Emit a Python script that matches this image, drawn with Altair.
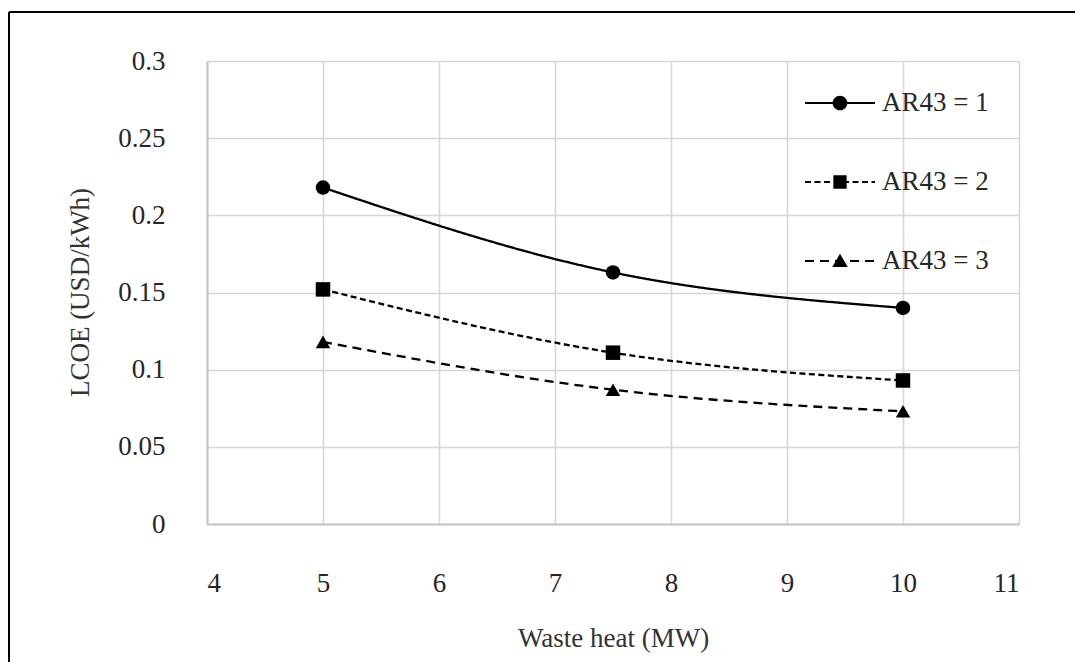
import altair as alt
import pandas as pd

# Waste heat input (MW) and levelised cost of electricity (USD/kWh)
heat = [5, 7.5, 10]
series_names = ["AR43 = 1", "AR43 = 2", "AR43 = 3"]
lcoe_ar1 = [0.218, 0.163, 0.140]
lcoe_ar2 = [0.152, 0.111, 0.093]
lcoe_ar3 = [0.118, 0.087, 0.073]
x_ticks = [4, 5, 6, 7, 8, 9, 10, 11]
y_ticks = [0, 0.05, 0.1, 0.15, 0.2, 0.25, 0.3]

rows = []
for name, vals in zip(series_names, [lcoe_ar1, lcoe_ar2, lcoe_ar3]):
    for h, v in zip(heat, vals):
        rows.append({"heat": h, "lcoe": v, "series": name})
df = pd.DataFrame(rows)

FONT = "Liberation Serif"
DASHES = [[1, 0], [6, 3.5], [9, 6]]
SHAPES = ["circle", "square", "triangle-up"]

# Legend glyphs: a line sample with the marker on top, as filled SVG paths in
# the [-1, 1] unit box (one unit = 35 px at symbol size 4900). All sub-paths
# run clockwise so overlapping parts stay filled.
UNIT = 35.0
HALF_W = 1.1 / UNIT  # half line thickness


def bar(x0, x1):
    return (f"M{x0:.3f},{-HALF_W:.3f}L{x1:.3f},{-HALF_W:.3f}"
            f"L{x1:.3f},{HALF_W:.3f}L{x0:.3f},{HALF_W:.3f}Z")


def line_path(dash, gap):
    if gap == 0:
        return bar(-1, 1)
    parts = []
    pos = -UNIT
    while pos < UNIT:
        end = min(pos + dash, UNIT)
        parts.append(bar(pos / UNIT, end / UNIT))
        pos = end + gap
    return "".join(parts)


marker_paths = [
    "M-0.21,0A0.21,0.21 0 1,1 0.21,0A0.21,0.21 0 1,1 -0.21,0Z",
    "M-0.19,-0.19L0.19,-0.19L0.19,0.19L-0.19,0.19Z",
    "M0,-0.21L0.22,0.17L-0.22,0.17Z",
]
legend_paths = [line_path(d[0], d[1]) + m for d, m in zip(DASHES, marker_paths)]

x_enc = alt.X(
    "heat:Q",
    scale=alt.Scale(domain=[4, 11], nice=False, zero=False),
    axis=alt.Axis(
        values=x_ticks, format="d", title="Waste heat (MW)",
        titleX=406, titleY=122, titleBaseline="alphabetic", titleAlign="center",
        labelPadding=46,
    ),
)
y_enc = alt.Y(
    "lcoe:Q",
    scale=alt.Scale(domain=[0, 0.3], nice=False),
    axis=alt.Axis(
        values=y_ticks, format=".2~f", title="LCOE (USD/kWh)",
        titleX=-119, titleY=231, titleAngle=-90, titleBaseline="alphabetic",
        titleAlign="center", labelPadding=42,
    ),
)

base = alt.Chart(df)

lines = base.mark_line(interpolate="monotone", color="black", strokeWidth=2.3).encode(
    x=x_enc,
    y=y_enc,
    strokeDash=alt.StrokeDash(
        "series:N", scale=alt.Scale(domain=series_names, range=DASHES), legend=None
    ),
)

points = base.mark_point(filled=True, color="black", size=210, opacity=1).encode(
    x=x_enc,
    y=y_enc,
    shape=alt.Shape(
        "series:N", scale=alt.Scale(domain=series_names, range=SHAPES), legend=None
    ),
)

# Legend-only layer: no rows survive the filter, the shape scale carries the
# combined line-and-marker glyphs.
legend_layer = (
    base.transform_filter("false")
    .mark_point(filled=True, color="black", opacity=1)
    .encode(
        x=x_enc,
        y=y_enc,
        shape=alt.Shape(
            "series:N",
            scale=alt.Scale(domain=series_names, range=legend_paths),
            legend=alt.Legend(
                title=None, orient="none", legendX=598, legendY=7,
                symbolSize=4900, rowPadding=31, labelOffset=7, padding=0,
                symbolFillColor="black", symbolStrokeWidth=0, symbolOpacity=1,
                labelFont=FONT, labelFontSize=27, labelColor="#262626",
            ),
        ),
    )
)

# Outer frame around the figure (continues past the right and bottom edges)
frame_df = pd.DataFrame({"k": [0]})
frame_top = alt.Chart(frame_df).mark_rule(color="black", strokeWidth=2).encode(
    x=alt.value(-198), x2=alt.value(900), y=alt.value(-49)
)
frame_left = alt.Chart(frame_df).mark_rule(color="black", strokeWidth=2).encode(
    x=alt.value(-198), y=alt.value(-49), y2=alt.value(700)
)

chart = (
    alt.layer(lines, points, legend_layer, frame_top, frame_left)
    .resolve_scale(shape="independent")
    .properties(
        width=812,
        height=463,
        autosize=alt.AutoSizeParams(type="none"),
        padding={"left": 207, "top": 61, "right": 56, "bottom": 138},
        background="white",
    )
    .configure_view(stroke=None)
    .configure_axis(
        labelFont=FONT, labelFontSize=27, labelColor="#262626",
        titleFont=FONT, titleFontSize=27, titleColor="#333333", titleFontWeight="normal",
        ticks=False, tickSize=0,
        grid=True, gridColor="#d6d6d6", gridWidth=1.6,
        domain=True, domainColor="#c4c4c4", domainWidth=2,
    )
)

chart.save("out.html", embed_options={"renderer": "svg", "actions": False})
